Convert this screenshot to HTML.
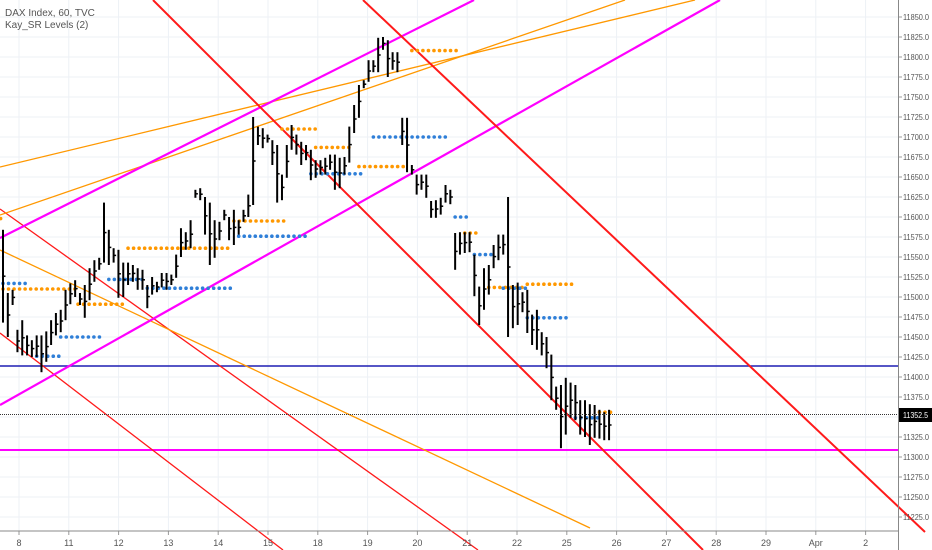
<!DOCTYPE html>
<html><head><meta charset="utf-8"><style>
html,body{margin:0;padding:0;background:#fff;}
svg{display:block;font-family:"Liberation Sans",sans-serif;}
</style></head><body>
<svg id="chart" width="932" height="550" viewBox="0 0 932 550">
<g id="grid"></g>
<g id="drawings">
  <line x1="0" y1="366" x2="898" y2="366" stroke="#1e1eb4" stroke-width="1.5"/>
  <line x1="0" y1="450" x2="898" y2="450" stroke="#ff00ff" stroke-width="2"/>
  <line x1="0" y1="209" x2="478" y2="550" stroke="#ff1a1a" stroke-width="1.3"/>
  <line x1="0" y1="333" x2="283" y2="550" stroke="#ff1a1a" stroke-width="1.3"/>
  <line x1="0" y1="250" x2="590" y2="528" stroke="#ff9800" stroke-width="1.3"/>
  <line x1="0" y1="167" x2="695" y2="0" stroke="#ff9800" stroke-width="1.3"/>
  <line x1="0" y1="215" x2="625" y2="0" stroke="#ff9800" stroke-width="1.3"/>
  <line x1="0" y1="238" x2="474" y2="0" stroke="#ff00ff" stroke-width="2.2"/>
  <line x1="0" y1="405" x2="720" y2="0" stroke="#ff00ff" stroke-width="2.2"/>
  <line x1="153" y1="0" x2="703" y2="550" stroke="#ff1a1a" stroke-width="2"/>
  <line x1="363" y1="0" x2="925" y2="532" stroke="#ff1a1a" stroke-width="2"/>
</g>
<g id="levels"></g>
<g id="bars"></g>
<line x1="0" y1="414.5" x2="898" y2="414.5" stroke="#333" stroke-width="1" stroke-dasharray="1,1"/>
<g id="axes"></g>
<text x="5" y="16" font-size="10" fill="#555">DAX Index, 60, TVC</text>
<text x="5" y="28" font-size="10" fill="#555">Kay_SR Levels (2)</text>
</svg>
<script>
const priceTicks=[11850,11825,11800,11775,11750,11725,11700,11675,11650,11625,11600,11575,11550,11525,11500,11475,11450,11425,11400,11375,11350,11325,11300,11275,11250,11225];
const dayLabels=["8","11","12","13","14","15","18","19","20","21","22","25","26","27","28","29","Apr","2"];
const highs=[11584,11505,11509,11459,11471,11452,11446,11452,11452,11457,11471,11480,11484,11509,11517,11521,11505,11515,11536,11546,11549,11618,11584,11561,11559,11543,11543,11540,11536,11534,11515,11525,11519,11530,11530,11528,11553,11586,11581,11596,11634,11636,11625,11618,11596,11594,11609,11600,11609,11596,11609,11628,11725,11713,11711,11703,11696,11690,11653,11690,11715,11703,11694,11690,11684,11671,11671,11674,11678,11678,11674,11675,11713,11740,11765,11771,11796,11796,11824,11825,11821,11806,11806,11724,11724,11665,11653,11653,11653,11620,11621,11624,11640,11634,11580,11581,11581,11581,11553,11513,11536,11540,11565,11578,11578,11625,11515,11518,11506,11509,11478,11484,11456,11450,11428,11388,11390,11399,11393,11390,11371,11371,11366,11365,11359,11356,11359];
const lows=[11468,11450,11490,11431,11427,11427,11425,11425,11406,11419,11440,11452,11456,11471,11491,11500,11490,11474,11496,11519,11534,11543,11540,11543,11499,11500,11515,11519,11509,11509,11486,11503,11506,11512,11509,11515,11524,11550,11559,11561,11624,11621,11578,11540,11549,11571,11596,11571,11565,11578,11594,11600,11615,11690,11686,11693,11665,11618,11621,11649,11684,11678,11665,11671,11646,11649,11653,11653,11659,11634,11636,11653,11668,11705,11724,11761,11769,11781,11781,11809,11775,11784,11781,11690,11656,11653,11628,11634,11624,11599,11599,11603,11618,11616,11534,11553,11555,11556,11501,11465,11484,11503,11536,11546,11553,11450,11461,11465,11481,11455,11440,11434,11427,11411,11371,11359,11311,11328,11349,11346,11328,11325,11315,11324,11323,11321,11321];
const levelPrices=[11510,11598,11491,11561,11595,11710,11687,11663,11808,11580,11512,11516,11356,11517,11426,11450,11522,11511,11576,11654,11700,11600,11553,11511,11474,11349];
const levelStart=[0,-0.5,15.6,26,48,58,65,74,85,96,101,109,124,0,7,12,22,30,49,64,77,94,98,104,109,119];
const levelEnd=[15,0.5,25,47,59,66,73,84,95,99,108,119,127,5,12,21,29,48,63,75,92,97,102,109,118,124];
const levelKind=["r","r","r","r","r","r","r","r","r","r","r","r","r","s","s","s","s","s","s","s","s","s","s","s","s","s"];

const NS="http://www.w3.org/2000/svg";
const yS=p=>17+(11850-p)*0.8;
const xS=i=>3+i*4.81;
const dayX=k=>19+k*49.8;
function mk(tag,attrs,parent){const e=document.createElementNS(NS,tag);for(const k in attrs)e.setAttribute(k,attrs[k]);parent.appendChild(e);return e;}
const grid=document.getElementById('grid'),axes=document.getElementById('axes'),bars=document.getElementById('bars'),levels=document.getElementById('levels');

priceTicks.forEach(p=>{
  const g=mk('line',{x1:0,x2:898,y1:yS(p),y2:yS(p),stroke:'#edf1f6','stroke-width':1},grid);
  
  
  const t=mk('line',{x1:898,x2:902,y1:yS(p),y2:yS(p),stroke:'#999','stroke-width':1},axes);
  
  
  const l=mk('text',{x:903,y:yS(p)+3,'font-size':8,fill:'#555',textLength:26,lengthAdjust:'spacingAndGlyphs'},axes);
  l.textContent=p.toFixed(1);
  
  
});
dayLabels.forEach((d,k)=>{
  const g=mk('line',{x1:dayX(k),x2:dayX(k),y1:0,y2:531,stroke:'#edf1f6','stroke-width':1},grid);
  
  
  const t=mk('line',{x1:dayX(k),x2:dayX(k),y1:531,y2:535,stroke:'#999','stroke-width':1},axes);
  
  
  const l=mk('text',{x:dayX(k),y:546,'font-size':9,fill:'#555','text-anchor':'middle'},axes);
  l.textContent=d;
  
  
});
const ax1=mk('line',{x1:0,x2:898,y1:531,y2:531,stroke:'#888','stroke-width':1},axes);


const ax2=mk('line',{x1:898.5,x2:898.5,y1:0,y2:550,stroke:'#888','stroke-width':1},axes);



levelPrices.forEach((p,j)=>{
  const col=levelKind[j]==='r'?'#ff9800':'#2f7fd8';
  for(let i=levelStart[j];i<=levelEnd[j]+0.01;i+=1.15){
    const c=mk('circle',{cx:xS(i),cy:yS(p),r:1.8,fill:col},levels);
    
    
  }
});

highs.forEach((h,i)=>{
  const x=xS(i),m=(h+lows[i])/2;
  const b=mk('line',{x1:x,x2:x,y1:yS(h),y2:yS(lows[i]),stroke:'#000','stroke-width':2},bars);
  
  
  const t=mk('line',{x1:x,x2:x+2.5,y1:yS(m),y2:yS(m),stroke:'#000','stroke-width':1.5},bars);
  
  
});

const lastPrice=11352.5;
const box=mk('rect',{x:899,y:yS(lastPrice)-7,width:33,height:14,fill:'#000'},axes);


const bt=mk('text',{x:903,y:yS(lastPrice)+3,'font-size':8,fill:'#fff',textLength:25,lengthAdjust:'spacingAndGlyphs'},axes);
bt.textContent=lastPrice.toFixed(1);


</script>
</body></html>
